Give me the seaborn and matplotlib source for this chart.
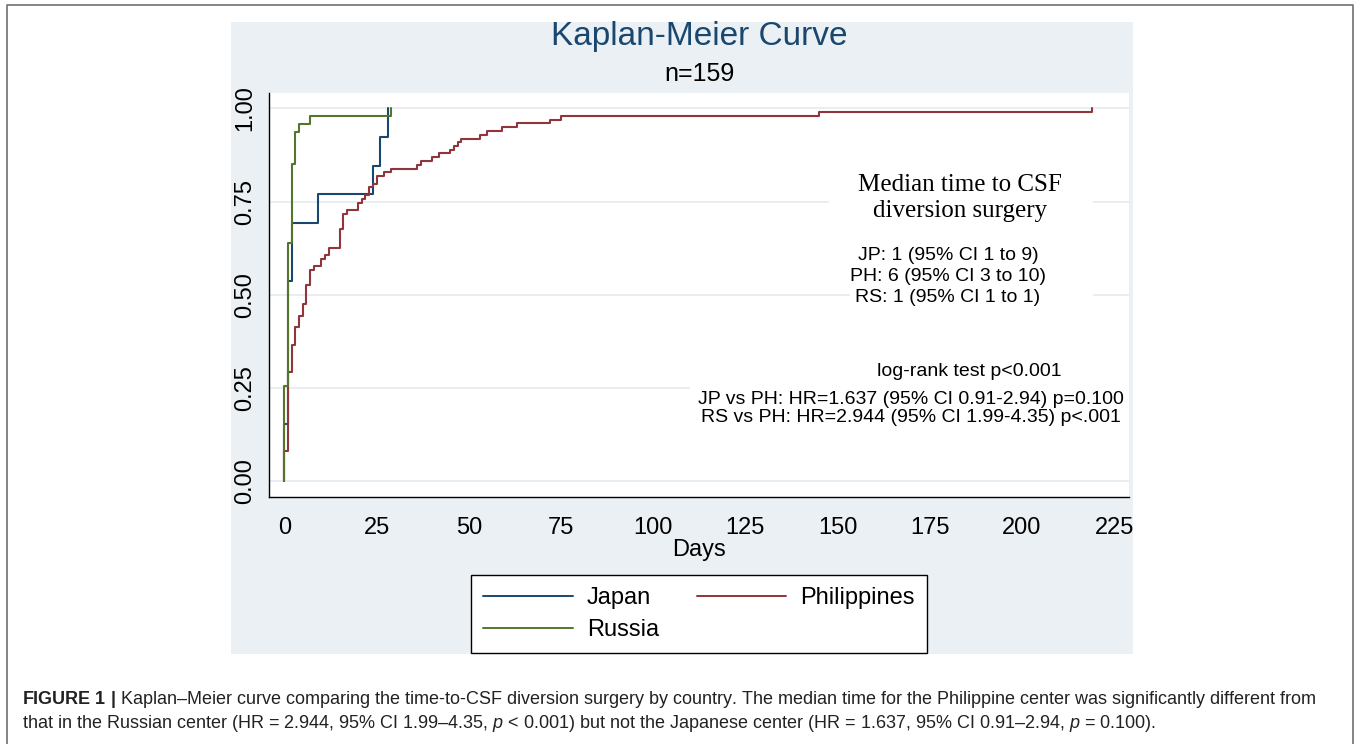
import pandas as pd
import matplotlib
matplotlib.use("Agg")
import matplotlib.pyplot as plt
from matplotlib.patches import Rectangle
from matplotlib.lines import Line2D
import seaborn as sns

# cumulative proportion having CSF diversion surgery
japan_days = [0, 0, 1, 2, 9, 24, 26, 28]
japan_prop = [0.0, 0.154, 0.538, 0.692, 0.769, 0.846, 0.923, 1.0]

russia_days = [0, 0, 1, 2, 3, 4, 7, 29]
russia_prop = [0.0, 0.255, 0.638, 0.851, 0.936, 0.957, 0.979, 1.0]

phil_days = [0, 0, 1, 2, 3, 4, 5, 6, 7, 8, 10, 11, 12, 15, 16, 17, 20, 21, 22,
             23, 24, 25, 27, 29, 36, 37, 40, 42, 45, 46, 47, 48, 53, 55, 59,
             63, 72, 75, 145, 219]
phil_prop = [0.0, 0.081, 0.293, 0.364, 0.414, 0.444, 0.475, 0.525, 0.566,
             0.576, 0.596, 0.606, 0.626, 0.677, 0.717, 0.727, 0.747, 0.758,
             0.768, 0.788, 0.798, 0.818, 0.828, 0.838, 0.848, 0.859, 0.869,
             0.879, 0.889, 0.899, 0.909, 0.919, 0.929, 0.939, 0.949, 0.960,
             0.970, 0.980, 0.990, 1.0]

countries = ["Japan", "Philippines", "Russia"]
colors = {"Japan": "#1a476f", "Philippines": "#90353b", "Russia": "#55752f"}

x_ticks = [0, 25, 50, 75, 100, 125, 150, 175, 200, 225]
y_ticks = [0.0, 0.25, 0.50, 0.75, 1.00]

median_lines = ["JP: 1 (95% CI 1 to 9)", "PH: 6 (95% CI 3 to 10)", "RS: 1 (95% CI 1 to 1)"]
hr_lines = ["JP vs PH: HR=1.637 (95% CI 0.91-2.94) p=0.100",
            "RS vs PH: HR=2.944 (95% CI 1.99-4.35) p<.001"]

caption1 = (r"$\mathbf{FIGURE\ 1\ |}$ Kaplan–Meier curve comparing the time-to-CSF diversion "
            "surgery by country. The median time for the Philippine center was significantly different from")
caption2 = ("that in the Russian center (HR = 2.944, 95% CI 1.99–4.35, $p$ < 0.001) but not the "
            "Japanese center (HR = 1.637, 95% CI 0.91–2.94, $p$ = 0.100).")

df = pd.concat([
    pd.DataFrame({"Days": japan_days, "Failure": japan_prop, "Country": "Japan"}),
    pd.DataFrame({"Days": phil_days, "Failure": phil_prop, "Country": "Philippines"}),
    pd.DataFrame({"Days": russia_days, "Failure": russia_prop, "Country": "Russia"}),
], ignore_index=True)

sns.set_style("white")
plt.rcParams["font.family"] = ["Liberation Sans", "DejaVu Sans"]
plt.rcParams["mathtext.fontset"] = "custom"
plt.rcParams["mathtext.rm"] = "Liberation Sans"
plt.rcParams["mathtext.it"] = "Liberation Sans:italic"
plt.rcParams["mathtext.bf"] = "Liberation Sans:bold"
for k in ["text.color", "axes.labelcolor", "xtick.color", "ytick.color"]:
    plt.rcParams[k] = "black"

W, H = 1360, 744
fig = plt.figure(figsize=(W / 100, H / 100), dpi=100)

# page frame and the grey graph region
fig.add_artist(Line2D([7 / W, 7 / W, 1353 / W, 1353 / W], [0, 1 - 5 / H, 1 - 5 / H, 0],
                      color="#707070", lw=1.2, transform=fig.transFigure))
fig.patches.append(Rectangle((231 / W, 1 - 654 / H), 902 / W, 632 / H, transform=fig.transFigure,
                             facecolor="#eaf0f3", edgecolor="none", zorder=-5))

ax = fig.add_axes([269.3 / W, 1 - 496.7 / H, (1129 - 269.3) / W, (496.7 - 92.7) / H])
ax.set_zorder(2)
ax.set_facecolor("white")

sns.lineplot(data=df, x="Days", y="Failure", hue="Country", hue_order=countries,
             palette=colors, estimator=None, sort=False, drawstyle="steps-post",
             linewidth=1.5, ax=ax, zorder=3)

ax.set_xlim(-4.07, 229.0)
ax.set_ylim(-0.042, 1.042)
ax.set_xticks(x_ticks)
ax.set_xticklabels([str(t) for t in x_ticks], fontsize=17)
ax.set_yticks(y_ticks)
ax.set_yticklabels(["%.2f" % t for t in y_ticks], fontsize=17, rotation=90, va="center")
ax.set_xlabel("Days", fontsize=17, labelpad=0.5)
ax.set_ylabel("")
ax.yaxis.grid(True, color="#e6edf0", lw=1.3)
ax.xaxis.grid(False)
ax.set_axisbelow(True)
for s in ["top", "right"]:
    ax.spines[s].set_visible(False)
for s in ["left", "bottom"]:
    ax.spines[s].set_color("black")
    ax.spines[s].set_linewidth(1.0)
ax.tick_params(axis="x", direction="out", length=5, width=0.9, color="black", pad=9.3)
ax.tick_params(axis="y", direction="out", length=7, width=0.9, color="black", pad=2.2)


def px_to_data(px, py):
    return (px - 284.3) / 3.688, (480.7 - py) / 372.5


# white boxes behind the annotation text
for (x0, y0, x1, y1) in [(829, 150, 1093, 235), (850, 240, 1093, 310), (690, 355, 1135, 432)]:
    dx0, dy0 = px_to_data(x0, y1)
    dx1, dy1 = px_to_data(x1, y0)
    ax.add_patch(Rectangle((dx0, dy0), dx1 - dx0, dy1 - dy0, facecolor="white",
                           edgecolor="none", zorder=1))

fig.text(699 / W, 1 - 37 / H, "Kaplan-Meier Curve", fontsize=24, color="#1a476f",
         ha="center", va="center")
fig.text(699 / W, 1 - 74 / H, "n=159", fontsize=18, ha="center", va="center")

fig.text(960 / W, 1 - 198 / H, "Median time to CSF\ndiversion surgery", fontsize=18,
         family="Liberation Serif", ha="center", va="center", linespacing=1.25, zorder=5)
for i, line in enumerate(median_lines):
    fig.text(948 / W, 1 - (255 + 21.5 * i) / H, line, fontsize=14, ha="center", va="center", zorder=5)
fig.text(969 / W, 1 - 371 / H, "log-rank test p<0.001", fontsize=14, ha="center", va="center", zorder=5)
for i, line in enumerate(hr_lines):
    fig.text(911 / W, 1 - (399 + 19 * i) / H, line, fontsize=14, ha="center", va="center", zorder=5)

handles, labels = ax.get_legend_handles_labels()
ax.get_legend().remove()
order = [labels.index(c) for c in ["Japan", "Russia", "Philippines"]]
leg = fig.legend([handles[i] for i in order], [labels[i] for i in order], ncol=2,
                 loc="upper left", bbox_to_anchor=(471 / W, 1 - 575 / H), borderaxespad=0,
                 fontsize=17, frameon=True, fancybox=False, framealpha=1, handlelength=3.8,
                 handletextpad=0.6, columnspacing=1.6, borderpad=0.5, labelspacing=0.43)
leg.get_frame().set_edgecolor("black")
leg.get_frame().set_linewidth(1.0)
leg.get_frame().set_facecolor("white")
for h in leg.legend_handles:
    h.set_linewidth(1.4)

fig.text(22 / W, 1 - 700 / H, caption1, fontsize=13.0, color="#222222", va="center")
fig.text(22 / W, 1 - 724 / H, caption2, fontsize=13.0, color="#222222", va="center")

fig.savefig("out.png", dpi=100)
